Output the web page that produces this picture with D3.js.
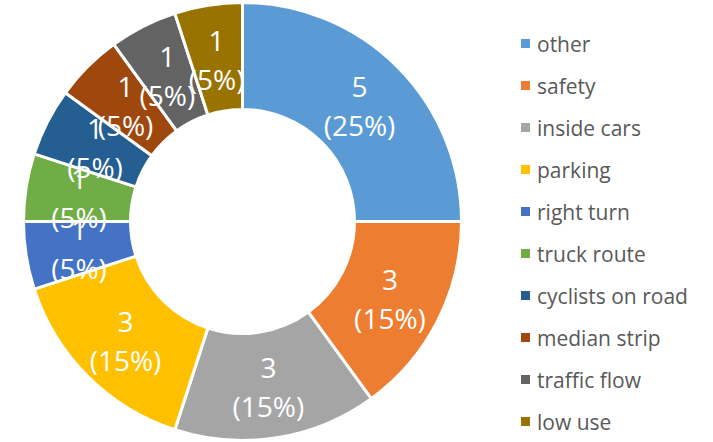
<!DOCTYPE html>
<html>
<head>
<meta charset="utf-8">
<script src="https://cdn.jsdelivr.net/npm/d3@7"></script>
<style>
  body { margin: 0; background: #fff; }
  svg { display: block; }
</style>
</head>
<body>
<div id="chart"></div>
<script>
// --- Data ---
const categories = ["other", "safety", "inside cars", "parking", "right turn",
  "truck route", "cyclists on road", "median strip", "traffic flow", "low use"];
const counts = [5, 3, 3, 3, 1, 1, 1, 1, 1, 1];
const colors = ["#5B9BD5", "#ED7D31", "#A5A5A5", "#FFC000", "#4472C4",
  "#70AD47", "#255E91", "#9E480E", "#636363", "#997300"];

// --- Layout ---
const WIDTH = 713;
const HEIGHT = 442;
const CX = 242.5;
const CY = 221.5;
const OUTER_R = 219;
const INNER_R = 112;
const FONT = "'Open Sans', sans-serif";

const svg = d3.select("#chart").append("svg")
  .attr("width", WIDTH)
  .attr("height", HEIGHT);

const total = d3.sum(counts);
const data = categories.map((c, i) => ({ name: c, value: counts[i], color: colors[i] }));

const pie = d3.pie().sort(null).value(d => d.value);
const arc = d3.arc().innerRadius(INNER_R).outerRadius(OUTER_R);
const midR = (INNER_R + OUTER_R) / 2;
const labelArc = d3.arc().innerRadius(midR).outerRadius(midR);

const g = svg.append("g").attr("transform", `translate(${CX},${CY})`);

const arcs = pie(data);

g.selectAll("path.slice")
  .data(arcs)
  .join("path")
  .attr("class", "slice")
  .attr("d", arc)
  .attr("fill", d => d.data.color)
  .attr("stroke", "#fff")
  .attr("stroke-width", 3);

// value + percentage labels (they overlap on the thin slices, as in the original)
const labels = g.selectAll("text.lbl")
  .data(arcs)
  .join("text")
  .attr("class", "lbl")
  .attr("transform", d => `translate(${labelArc.centroid(d)})`)
  .attr("text-anchor", "middle")
  .attr("fill", "#fff")
  .style("font-family", FONT)
  .style("font-size", "28px");

labels.append("tspan")
  .attr("x", 0)
  .attr("y", -7)
  .text(d => d.data.value);
labels.append("tspan")
  .attr("x", 0)
  .attr("y", 32)
  .text(d => `(${Math.round(d.data.value / total * 100)}%)`);

// --- Legend ---
const legend = svg.append("g").attr("transform", "translate(521,44)");
const rows = legend.selectAll("g")
  .data(data)
  .join("g")
  .attr("transform", (d, i) => `translate(0,${i * 42})`);

rows.append("rect")
  .attr("x", 0)
  .attr("y", -5)
  .attr("width", 9)
  .attr("height", 9)
  .attr("fill", d => d.color);

rows.append("text")
  .attr("x", 16)
  .attr("y", 8)
  .attr("fill", "#595959")
  .style("font-family", FONT)
  .style("font-size", "21px")
  .text(d => d.name);
</script>
</body>
</html>
